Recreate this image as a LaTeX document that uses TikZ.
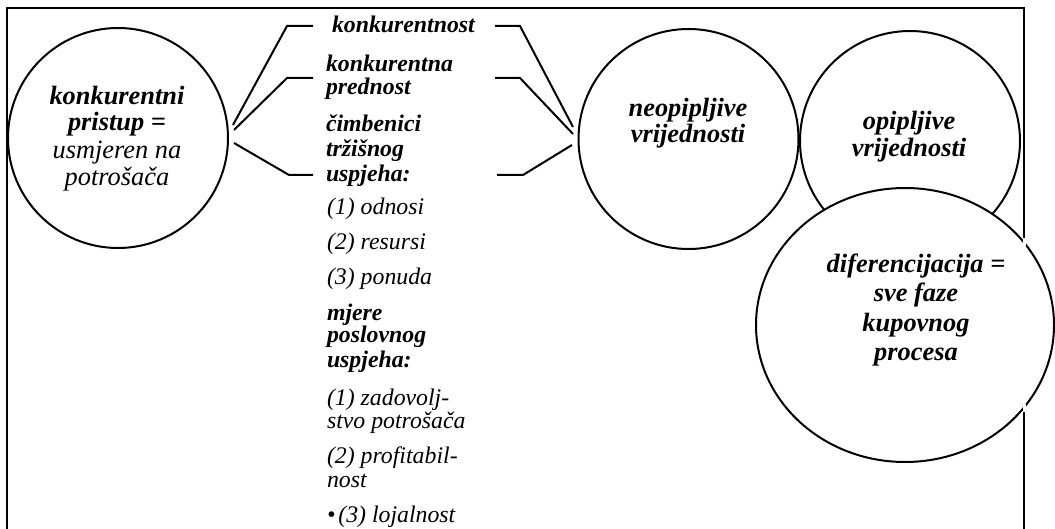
\documentclass[tikz,border=0pt]{standalone}
\usepackage{fontspec}
\setmainfont{Liberation Serif}
\begin{document}
\begin{tikzpicture}[x=1pt,y=-1pt,line width=2pt,
  ctxtb/.style={font=\fontsize{26.4}{27}\selectfont\bfseries\itshape,anchor=base,inner sep=0pt},
  ctxti/.style={font=\fontsize{26.4}{27}\selectfont\itshape,anchor=base,inner sep=0pt},
  ltxtb/.style={font=\fontsize{23.8}{24}\selectfont\bfseries\itshape,anchor=base west,inner sep=0pt},
  ltxti/.style={font=\fontsize{23.8}{24}\selectfont\itshape,anchor=base west,inner sep=0pt},
  ring/.style={circle,draw,inner sep=0pt,minimum size=220pt},
  conn/.style={draw,line width=2pt,line join=miter},
  gap/.style={draw=white,line width=3pt}]
\useasboundingbox (0,0) rectangle (1055,529);
\clip (0,0) rectangle (1055,529);
\fill[white] (0,0) rectangle (1055,529);
% frame
\draw (7,540) -- (7,8) -- (1024,8) -- (1024,540);
% circles
\node[ring] (kp) at (118,138) {};
\node[ring] (neo) at (688.5,139) {};
\node[ring] (opi) at (910,141) {};
\draw[fill=white] (905,325) ellipse [x radius=149, y radius=137];
\node[inner sep=0pt] (dif) at (905,325) {};
% small breaks where the frame crosses the ellipse
\coordinate (g1a) at (1024,238); \coordinate (g1b) at (1024,246);
\coordinate (g2a) at (1024,404); \coordinate (g2b) at (1024,412);
\path[gap] (g1a) -- (g1b);
\path[gap] (g2a) -- (g2b);
% left circle text
\node[ctxtb] (k1) at (117,105) {konkurentni};
\node[ctxtb] (k2) at (117,131) {pristup =};
\node[ctxti] (k3) at (117,159) {usmjeren na};
\node[ctxti] (k4) at (117,186) {potrošača};
% neopipljive
\node[ctxtb] (n1) at (688,117) {neopipljive};
\node[ctxtb] (n2) at (688,143) {vrijednosti};
% opipljive
\node[ctxtb] (o1) at (909,130) {opipljive};
\node[ctxtb] (o2) at (909,157) {vrijednosti};
% diferencijacija
\node[ctxtb] (d1) at (916,273) {diferencijacija =};
\node[ctxtb] (d2) at (916,302) {sve faze};
\node[ctxtb] (d3) at (916,331) {kupovnog};
\node[ctxtb] (d4) at (916,360) {procesa};
% middle list
\node[ltxtb] (m1) at (331,33) {konkurentnost};
\node[ltxtb] (m2) at (325,72) {konkurentna};
\node[ltxtb] (m3) at (325,95) {prednost};
\node[ltxtb] (m4) at (325,132) {čimbenici};
\node[ltxtb] (m5) at (325,157) {tržišnog};
\node[ltxtb] (m6) at (325,182) {uspjeha:};
\node[ltxti] (m7) at (326,215) {(1) odnosi};
\node[ltxti] (m8) at (326,250) {(2) resursi};
\node[ltxti] (m9) at (326,285) {(3) ponuda};
\node[ltxtb] (m10) at (326,320) {mjere};
\node[ltxtb] (m11) at (326,343) {poslovnog};
\node[ltxtb] (m12) at (326,367) {uspjeha:};
\node[ltxti] (m13) at (326,405) {(1) zadovolj-};
\node[ltxti] (m14) at (326,428) {stvo potrošača};
\node[ltxti] (m15) at (326,463) {(2) profitabil-};
\node[ltxti] (m16) at (326,487) {nost};
\node[ltxti] (m17) at (326,522) {•\hspace{3pt}(3) lojalnost};
% connector points
\coordinate (L1) at (233,125); \coordinate (L1b) at (287,26); \coordinate (L1e) at (313,26);
\coordinate (L2) at (234,130); \coordinate (L2b) at (287,78); \coordinate (L2e) at (313,78);
\coordinate (L3) at (234,143); \coordinate (L3b) at (289,175); \coordinate (L3e) at (313,175);
\coordinate (R1s) at (495,26); \coordinate (R1b) at (520,26); \coordinate (R1e) at (573,127);
\coordinate (R2s) at (495,78); \coordinate (R2b) at (520,78); \coordinate (R2e) at (573,134);
\coordinate (R3s) at (497,175); \coordinate (R3b) at (523,175); \coordinate (R3e) at (572,145);
\path[conn] (L1) -- (L1b) -- (L1e);
\path[conn] (L2) -- (L2b) -- (L2e);
\path[conn] (L3) -- (L3b) -- (L3e);
\path[conn] (R1s) -- (R1b) -- (R1e);
\path[conn] (R2s) -- (R2b) -- (R2e);
\path[conn] (R3s) -- (R3b) -- (R3e);
\end{tikzpicture}
\end{document}
